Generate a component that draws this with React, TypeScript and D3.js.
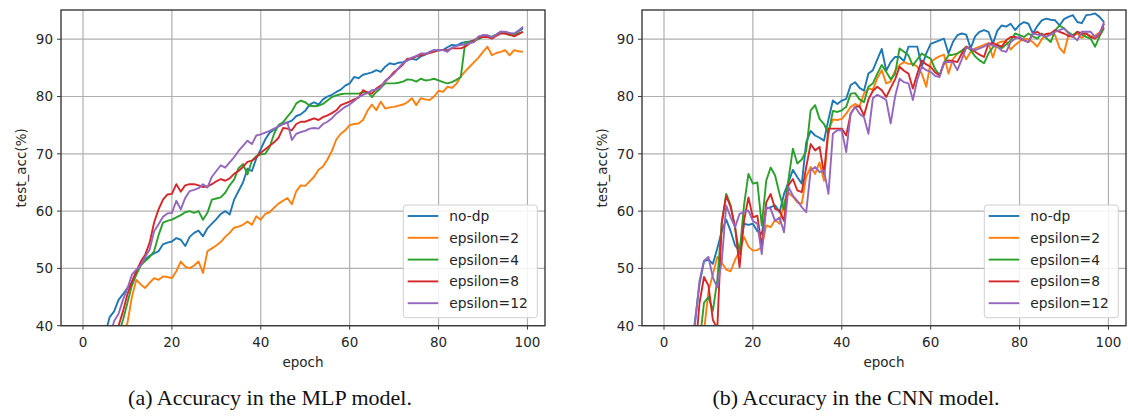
import React from 'react';
import * as d3 from 'd3';

const epochs = d3.range(100);
const seriesNames = ['no-dp', 'epsilon=2', 'epsilon=4', 'epsilon=8', 'epsilon=12'];
const seriesColors = ['#1f77b4', '#ff7f0e', '#2ca02c', '#d62728', '#9467bd'];
const xTicks = [0, 20, 40, 60, 80, 100];
const yTicks = [40, 50, 60, 70, 80, 90];
const xLabel = 'epoch';
const yLabel = 'test_acc(%)';
const captions = ['(a) Accuracy in the MLP model.', '(b) Accuracy in the CNN model.'];

// ---- MLP model ----
const mlpNoDp = [12, 18, 24, 30, 35, 38.5, 41.5, 42.5, 44.5, 45.5, 46.6, 47.5, 49.5, 50.8, 51.5, 52.2, 52.6, 53, 54.2, 54.5,
  54.7, 55.3, 55, 53.9, 55.5, 56.2, 56.6, 55.6, 57, 57.8, 58.6, 59.5, 60, 59.4, 62, 63.5, 65, 67.4, 67, 69.2,
  70.8, 72.5, 73.7, 74.2, 74.8, 75.2, 75.5, 75.8, 76.6, 76.9, 77.5, 78.6, 79, 78.6, 79.5, 80, 80.3, 80.8, 81.2, 81.9,
  82.3, 83.4, 83.2, 83.8, 84, 84.2, 84.6, 84.3, 85.2, 85.8, 85.6, 85.9, 86, 86.3, 86.6, 86.4, 87, 87.3, 87.8, 88.1,
  88, 88.1, 88.6, 89, 88.9, 89.3, 89.5, 89.6, 89.8, 90.1, 90.7, 90.6, 90.4, 90.8, 91.3, 91.2, 91, 90.7, 91.4, 91.9];
const mlpEps2 = [5, 10, 15, 20, 24, 27, 30, 33, 36, 38.5, 40.5, 45, 48, 47.2, 46.6, 47.5, 48.3, 48, 48.6, 48.5,
  48.3, 49.5, 51.2, 50.3, 50, 50.5, 51.2, 49.2, 53, 53.5, 54, 54.6, 55.5, 56.2, 57.1, 57.3, 57.6, 58.2, 57.6, 59.1,
  58.5, 59.5, 59.8, 60.6, 61.3, 61.8, 62.3, 61.2, 63.5, 64.5, 64.4, 65.2, 66, 67.2, 67.8, 69, 70.5, 72.5, 73.5, 74.1,
  75, 75.2, 75.3, 75.9, 77.5, 78.6, 77.6, 79.1, 77.9, 78.1, 78.2, 78.4, 78.6, 79, 79.7, 78.5, 79.7, 79.5, 79.4, 80,
  81, 80.8, 81.7, 81.5, 82.2, 83.5, 84.4, 85.2, 86, 86.8, 87.8, 88.7, 87.2, 87.6, 87.8, 88.1, 87.2, 88.1, 87.9, 87.8];
const mlpEps4 = [8, 13, 18, 22, 26, 30, 33, 36, 38.5, 41, 44, 47, 48.9, 50.5, 51.3, 52, 53, 55.8, 58, 58.3,
  58.5, 58.9, 59.3, 59.8, 60, 59.7, 60, 58.5, 59.7, 62, 62.2, 62.4, 63.2, 64.5, 65.5, 67.5, 68.2, 66.4, 68.8, 69.6,
  69.9, 70, 71.2, 73.5, 75, 75.5, 76.5, 77.4, 78.8, 79.3, 79, 78.4, 78.3, 78.4, 78.7, 79.3, 79.9, 80.2, 80.4, 80.5,
  80.5, 80.5, 80.5, 80.7, 80.8, 79.9, 80.8, 81.5, 82.3, 82.3, 82.3, 82.4, 82.6, 83, 82.9, 82.6, 83.1, 82.8, 82.9, 83.1,
  82.8, 82.5, 82.3, 82.5, 82.9, 83.4, 89.5, 89.5, 89.7, 90, 90.4, 90.4, 90.4, 90.8, 91.3, 91, 90.7, 90.8, 91, 91.3];
const mlpEps8 = [7, 12, 17, 22, 26, 30, 33, 36.5, 40, 42.5, 45.5, 47.7, 49.5, 51.2, 52.4, 54.5, 58, 60.3, 62, 62.9,
  63, 64.7, 63.4, 64.5, 64.7, 64.7, 64.5, 64.2, 64.3, 64.7, 65.2, 65.6, 65.3, 65.7, 66.5, 67, 67.7, 68.6, 68.8, 69.4,
  70.2, 70.8, 71.4, 72, 72.8, 74.5, 74.4, 74.1, 75.2, 75.6, 75.6, 75.9, 76.2, 75.9, 76.4, 76.7, 77.1, 77.6, 78.5, 78.8,
  79.1, 79.5, 79.8, 81.1, 80.7, 80.5, 81.4, 81.9, 82.6, 83.4, 84.3, 84.9, 85.6, 86.6, 86.6, 87, 87.2, 87.4, 87.6, 87.8,
  88.1, 88.1, 88.1, 88.4, 88.4, 88.4, 88.7, 89.3, 89.8, 90.3, 90.4, 90.4, 90.1, 90.6, 91, 91, 90.8, 90.5, 90.9, 91.3];
const mlpEps12 = [10, 15, 20, 25, 30, 34, 38, 40.8, 42.1, 44.5, 46.5, 48.9, 49.8, 50.5, 52, 53.3, 56.5, 57.7, 59, 59.6,
  59.7, 61.8, 60.3, 62.3, 63.5, 63.7, 64, 64.7, 64.1, 66, 67, 68, 67.6, 68.5, 69.4, 70.5, 71.4, 72.3, 71.7, 73.2,
  73.4, 73.7, 74, 74.4, 74.8, 75.2, 75.5, 72.4, 73.5, 73.8, 74, 74.4, 74.5, 74.4, 75.2, 75.6, 76.2, 77, 77.6, 78.2,
  78.6, 79.2, 79.9, 80.3, 80.6, 81.1, 81.2, 81.6, 82.8, 83.3, 84, 85, 85.8, 86.3, 86.8, 87.1, 87.5, 87.5, 87.7, 88.1,
  88.1, 88.1, 87.8, 88.5, 88.8, 89, 89.1, 89.3, 89.5, 90.5, 90.7, 90.7, 90.3, 90.8, 91.3, 91.3, 91.1, 91, 91.5, 92.2];

// ---- CNN model ----
const cnnNoDp = [10, 14, 18, 22, 26, 30, 35, 41, 47.3, 51.3, 51.5, 50.8, 53.5, 56.5, 58.5, 56.5, 54, 53, 57.8, 57.6,
  57.8, 56.5, 56, 60.4, 60.7, 61, 59.8, 63, 65, 67.2, 65.9, 64.8, 72, 74, 73.2, 72.8, 72.3, 76, 79.3, 78.7,
  79.3, 79.6, 82, 82.5, 81.5, 81, 84, 84.6, 86.5, 88.3, 84.5, 86, 86.9, 86.9, 86.2, 88.7, 88.7, 88.7, 85.2, 87.5,
  89.2, 89.5, 89.8, 90.1, 87.5, 89.5, 90.7, 91, 90.8, 88.4, 90.5, 91.3, 91.6, 91.3, 89.2, 91.5, 92.4, 92.2, 92.7, 91.6,
  92.5, 93, 92.7, 91, 92.3, 93.3, 93.6, 93.4, 93.3, 92.4, 93.5, 93.9, 94.2, 93, 92.8, 94.2, 94.3, 94.5, 93.9, 93];
const cnnEps2 = [5, 9, 13, 17, 21, 25, 29, 33, 36, 39, 46, 49, 52, 51, 49.8, 49.5, 51.5, 53, 55.5, 53.8,
  53.1, 53.2, 53.7, 57.5, 57.2, 58.5, 57.8, 61.5, 63.2, 62.5, 61.5, 61.3, 66, 67.7, 66.5, 68.5, 65.3, 74, 76, 75.9,
  76.1, 77, 78.2, 78.7, 78.3, 80.5, 81.4, 81.2, 83.2, 84.6, 82.3, 82.6, 84.5, 85.5, 86, 85.7, 85.7, 85.2, 84, 81.7,
  86, 86.6, 87, 87.3, 84, 86.5, 87.5, 88, 86.5, 87.8, 88.4, 88.7, 89, 89.3, 86.8, 89.3, 89.6, 89.6, 88.2, 89,
  89.6, 90.1, 90, 89.5, 88.7, 90, 90.9, 91, 90.7, 88.5, 87.6, 90.7, 90.8, 91, 90.2, 91, 90.5, 90.6, 91.2, 92.2];
const cnnEps4 = [4, 8, 12, 16, 20, 24, 28, 32, 37, 44, 45, 42.6, 48, 58, 63, 61, 57, 52.5, 61, 66.5,
  64.8, 65, 57.5, 65.3, 67.6, 66.2, 63, 60.2, 65.5, 70.9, 68.3, 69, 70.5, 77.6, 78.5, 76.1, 75.2, 73.5, 77.5, 77.3,
  77.6, 78.2, 80.5, 80.6, 79.5, 79, 81.7, 82.3, 84, 85.5, 84.3, 83, 84, 88.4, 87.8, 87.2, 85.4, 86.5, 87.5, 87,
  86.6, 84.8, 83.7, 85.8, 87.2, 87.3, 87.5, 88, 88.7, 88.1, 87, 86.3, 85.8, 87.5, 88.6, 89, 88.4, 89.1, 89.8, 91,
  90.7, 90.4, 91, 90.5, 90.1, 91, 90.2, 89.5, 91.5, 92.4, 91.9, 91.2, 90.7, 91.3, 90.8, 90.4, 90.1, 88.7, 90.5, 91.9];
const cnnEps8 = [6, 10, 14, 18, 22, 26, 30, 35, 44, 48.5, 47, 41, 39.5, 58, 62.7, 60.7, 57.2, 50.2, 58.3, 62.4,
  58.9, 59.2, 53.7, 61.5, 63, 60.4, 60.1, 58.3, 64.5, 65.6, 63.6, 63.3, 67.7, 71.7, 70.6, 71.2, 66.5, 74.4, 74.4, 74.4,
  74.4, 73.2, 77, 78.2, 78.3, 76.7, 79.5, 81, 81.7, 81.1, 79.9, 81.5, 83, 85.2, 84.5, 84, 81.4, 84, 86.3, 85.6,
  85.2, 84.2, 83.7, 85.8, 86.3, 86.2, 86, 87.5, 88.7, 88.4, 87.8, 87.3, 86.9, 89.2, 89.3, 89, 88.7, 89.8, 90.4, 90.4,
  90.2, 89.8, 89.5, 91, 91.3, 90.7, 90.9, 91, 91.6, 91.3, 91, 90.6, 90.4, 91.3, 91, 91, 90.4, 90.1, 90.8, 92.7];
const cnnEps12 = [8, 12, 16, 20, 24, 28, 33, 40.5, 47.9, 51.3, 52, 48.4, 46.7, 51.3, 61, 58.9, 57.2, 59.5, 59.8, 60.1,
  58.3, 57.8, 52.5, 60.7, 60.4, 58.3, 58.9, 56.3, 64.2, 62.7, 61.8, 60.7, 59.8, 67.1, 67.7, 66.8, 67.1, 63, 73.5, 74.1,
  74.1, 70.3, 77, 78.2, 77, 76.4, 73.5, 79.7, 80.3, 79.9, 79.4, 75.3, 80, 83.1, 82.5, 82.3, 79.4, 83, 85.2, 84.6,
  84.3, 83.6, 83.4, 86, 86, 86, 84.6, 86.5, 88.5, 88.4, 88.1, 88.4, 88.7, 89.2, 88.9, 88.7, 88, 87.8, 89.5, 90.1,
  90.4, 89.8, 89.5, 91, 90.8, 90.7, 90.4, 90.8, 91.3, 91.6, 91.9, 91, 90.5, 89.8, 91.3, 91.3, 91.3, 90.4, 91, 93];

const mlpSeries = [mlpNoDp, mlpEps2, mlpEps4, mlpEps8, mlpEps12];
const cnnSeries = [cnnNoDp, cnnEps2, cnnEps4, cnnEps8, cnnEps12];

const FONT = '"DejaVu Sans", sans-serif';
const TXT = '#262626';

type PanelProps = { id: string; left: number; right: number; top: number; bottom: number; series: number[][] };

function Panel({ id, left, right, top, bottom, series }: PanelProps) {
  const x = d3.scaleLinear().domain([-4.95, 103.95]).range([left, right]);
  const y = d3.scaleLinear().domain([40, 95.1]).range([bottom, top]);
  const line = d3.line<number>().x((_, i) => x(epochs[i])).y((d) => y(d));
  const lgW = 134, lgH = 112.7;
  const lgX = right - 7.7 - lgW, lgY = bottom - 8 - lgH;
  const rowY = (i: number) => lgY + 11 + i * 21.8;
  return (
    <g>
      <defs>
        <clipPath id={`clip-${id}`}>
          <rect x={left} y={top} width={right - left} height={bottom - top} />
        </clipPath>
      </defs>
      {xTicks.map((t) => (
        <line key={`gx${t}`} x1={x(t)} x2={x(t)} y1={top} y2={bottom} stroke="#b0b0b0" strokeWidth={1.2} />
      ))}
      {yTicks.map((t) => (
        <line key={`gy${t}`} x1={left} x2={right} y1={y(t)} y2={y(t)} stroke="#b0b0b0" strokeWidth={1.2} />
      ))}
      <g clipPath={`url(#clip-${id})`}>
        {series.map((s, i) => (
          <path key={i} d={line(s) || ''} fill="none" stroke={seriesColors[i]} strokeWidth={1.9} strokeLinejoin="round" />
        ))}
      </g>
      <rect x={left} y={top} width={right - left} height={bottom - top} fill="none" stroke="#3a3a3a" strokeWidth={1.4} />
      {xTicks.map((t) => (
        <g key={`xt${t}`}>
          <line x1={x(t)} x2={x(t)} y1={bottom} y2={bottom + 4} stroke="#3a3a3a" strokeWidth={1} />
          <text x={x(t)} y={bottom + 21} textAnchor="middle" fontFamily={FONT} fontSize={13.5} fill={TXT}>{t}</text>
        </g>
      ))}
      {yTicks.map((t) => (
        <g key={`yt${t}`}>
          <line x1={left - 4} x2={left} y1={y(t)} y2={y(t)} stroke="#3a3a3a" strokeWidth={1} />
          <text x={left - 8} y={y(t)} dy="0.36em" textAnchor="end" fontFamily={FONT} fontSize={13.5} fill={TXT}>{t}</text>
        </g>
      ))}
      <text x={(left + right) / 2} y={bottom + 41} textAnchor="middle" fontFamily={FONT} fontSize={13.5} fill={TXT}>{xLabel}</text>
      <text transform={`translate(${left - 40},${(top + bottom) / 2}) rotate(-90)`} textAnchor="middle" dy="0.36em"
        fontFamily={FONT} fontSize={13.5} fill={TXT}>{yLabel}</text>
      <rect x={lgX} y={lgY} width={lgW} height={lgH} rx={3} fill="#ffffff" fillOpacity={0.85} stroke="#d0d0d0" strokeWidth={1} />
      {seriesNames.map((n, i) => (
        <g key={n}>
          <line x1={lgX + 4.4} x2={lgX + 35} y1={rowY(i)} y2={rowY(i)} stroke={seriesColors[i]} strokeWidth={1.9} />
          <text x={lgX + 46} y={rowY(i)} dy="0.36em" fontFamily={FONT} fontSize={13.8} fill={TXT}>{n}</text>
        </g>
      ))}
    </g>
  );
}

export default function App() {
  return (
    <svg width={1128} height={416} viewBox="0 0 1128 416" style={{ position: 'absolute', left: 0, top: 0, background: '#fff' }}>
      <rect x={0} y={0} width={1128} height={416} fill="#fff" />
      <Panel id="mlp" left={61} right={545} top={10} bottom={325.7} series={mlpSeries} />
      <Panel id="cnn" left={642} right={1126} top={10} bottom={325.7} series={cnnSeries} />
      <text x={270} y={405} textAnchor="middle" fontFamily='"Liberation Serif", "Times New Roman", serif' fontSize={22} fill="#111">{captions[0]}</text>
      <text x={856} y={405} textAnchor="middle" fontFamily='"Liberation Serif", "Times New Roman", serif' fontSize={22} fill="#111">{captions[1]}</text>
    </svg>
  );
}
